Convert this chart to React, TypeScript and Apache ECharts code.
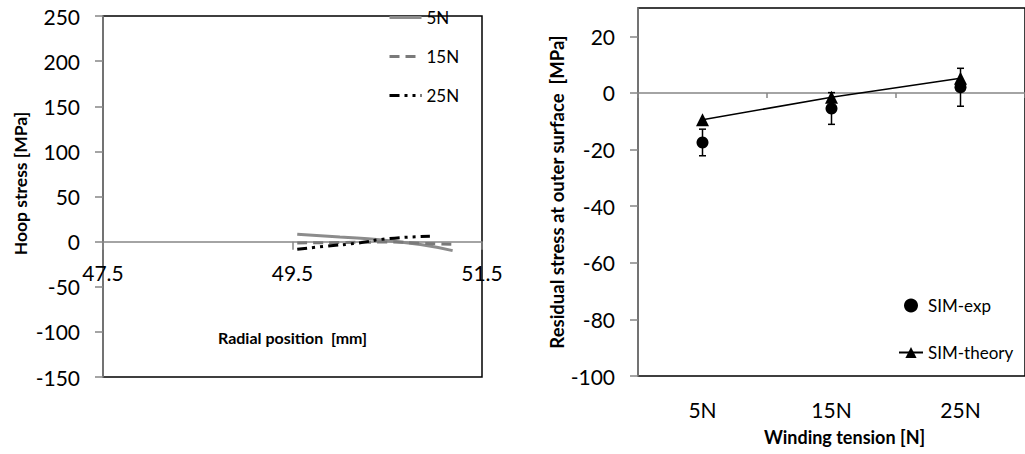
import React, { useEffect, useRef } from "react";
import * as echarts from "echarts";

// Left chart: hoop stress vs radial position
const radialTicks = [47.5, 49.5, 51.5];
const hoop5N: [number, number][] = [[49.55, 8.3], [50.0, 5], [50.42, 2.2], [50.85, -3.3], [51.19, -10]];
const hoop15N: [number, number][] = [[49.55, -1.5], [50.0, -1], [50.5, -0.5], [50.9, -2], [51.19, -3]];
const hoop25N: [number, number][] = [[49.55, -8.5], [49.86, -5], [50.18, -1.7], [50.51, 3.3], [50.95, 6]];
const hoopMin = -150;
const hoopMax = 250;

// Right chart: residual stress at outer surface
const tensions = ["5N", "15N", "25N"];
const simExp = [-17.5, -5.5, 2];
const simExpErr = [4.7, 5.6, 6.7];
const simTheory = [-9.5, -1.5, 5.2];
const residualTicks = [-100, -80, -60, -40, -20, 0, 20];

const FONT = "Lato";
const AXIS_GRAY = "#868686";

export default function App() {
  const ref = useRef<HTMLDivElement>(null);
  useEffect(() => {
    if (!ref.current) return;
    const chart = echarts.init(ref.current, null, { renderer: "svg" });
    const errData = tensions.map((_, i) => [i, simExp[i] - simExpErr[i], simExp[i] + simExpErr[i]]);
    const tickLabel = { color: "#000", fontFamily: FONT, fontSize: 21 };
    const nameStyle = (size: number) => ({ color: "#000", fontFamily: FONT, fontSize: size, fontWeight: "bold" as const });
    const leftGridH = 361;
    // move the left x axis up to the y = 0 position
    const zeroOffset = -leftGridH * (0 - hoopMin) / (hoopMax - hoopMin);
    chart.setOption({
      animation: false,
      textStyle: { fontFamily: FONT },
      grid: [
        { left: 103, top: 16, width: 379, height: leftGridH, show: true, borderColor: "#000", borderWidth: 1.5, backgroundColor: "transparent", containLabel: false, outerBoundsMode: "none" },
        { left: 638, top: 8, width: 387, height: 368, show: true, borderColor: "#000", borderWidth: 1.5, backgroundColor: "transparent", containLabel: false, outerBoundsMode: "none" },
      ],
      legend: [
        {
          data: ["5N", "15N", "25N"],
          orient: "vertical",
          left: 383,
          top: 4,
          itemWidth: 32,
          itemHeight: 14,
          itemGap: 22,
          itemStyle: { opacity: 0 },
          lineStyle: { width: 3 },
          textStyle: { color: "#000", fontFamily: FONT, fontSize: 17 },
        },
        {
          data: ["SIM-exp", "SIM-theory"],
          orient: "vertical",
          left: 893,
          top: 292,
          itemWidth: 24,
          itemHeight: 14,
          itemGap: 30,
          textStyle: { color: "#000", fontFamily: FONT, fontSize: 17 },
        },
      ],
      xAxis: [
        {
          type: "value",
          gridIndex: 0,
          min: 47.5,
          max: 51.5,
          position: "bottom",
          offset: zeroOffset,
          name: "Radial position  [mm]",
          nameLocation: "middle",
          nameGap: 88,
          nameTextStyle: nameStyle(16),
          axisLine: { onZero: false, lineStyle: { color: AXIS_GRAY, width: 1.5 } },
          axisTick: { show: true, length: 8, customValues: radialTicks, lineStyle: { color: AXIS_GRAY, width: 1.5 } },
          axisLabel: { ...tickLabel, margin: 20, customValues: radialTicks, formatter: (v: number) => v.toFixed(1) },
          splitLine: { show: false },
        },
        {
          type: "category",
          gridIndex: 1,
          data: tensions,
          position: "bottom",
          name: "Winding tension [N]",
          nameLocation: "middle",
          nameGap: 52,
          nameTextStyle: { ...nameStyle(18), padding: [0, 0, 0, 26] },
          axisLine: { show: false, onZero: false },
          axisTick: { show: false },
          axisLabel: { ...tickLabel, margin: 23 },
          splitLine: { show: false },
        },
        {
          type: "category",
          gridIndex: 1,
          data: tensions,
          position: "bottom",
          axisLine: { show: true, onZero: true, lineStyle: { color: AXIS_GRAY, width: 1.5 } },
          axisTick: { show: true, length: 5, lineStyle: { color: AXIS_GRAY, width: 1.5 } },
          axisLabel: { show: false },
          splitLine: { show: false },
        },
      ],
      yAxis: [
        {
          type: "value",
          gridIndex: 0,
          min: hoopMin,
          max: hoopMax,
          interval: 50,
          name: "Hoop stress [MPa]",
          nameLocation: "middle",
          nameGap: 74,
          nameTextStyle: { ...nameStyle(17.5), padding: [0, 0, 0, 26] },
          axisLine: { show: true, onZero: false, lineStyle: { color: AXIS_GRAY, width: 1.5 } },
          axisTick: { show: true, length: 8, lineStyle: { color: AXIS_GRAY, width: 1.5 } },
          axisLabel: { ...tickLabel, margin: 23 },
          splitLine: { show: false },
        },
        {
          type: "value",
          gridIndex: 1,
          min: -100,
          max: 30,
          interval: 20,
          name: "Residual stress at outer surface  [MPa]",
          nameLocation: "middle",
          nameGap: 55,
          nameTextStyle: nameStyle(18.5),
          axisLine: { show: true, onZero: false, lineStyle: { color: AXIS_GRAY, width: 1.5 } },
          axisTick: { show: true, length: 8, customValues: residualTicks, lineStyle: { color: AXIS_GRAY, width: 1.5 } },
          axisLabel: { ...tickLabel, margin: 23, customValues: residualTicks },
          splitLine: { show: false },
        },
      ],
      series: [
        {
          name: "5N",
          type: "line",
          xAxisIndex: 0,
          yAxisIndex: 0,
          data: hoop5N,
          symbol: "none",
          smooth: true,
          lineStyle: { color: "#8c8c8c", width: 3 },
          itemStyle: { color: "#8c8c8c" },
        },
        {
          name: "15N",
          type: "line",
          xAxisIndex: 0,
          yAxisIndex: 0,
          data: hoop15N,
          symbol: "none",
          smooth: true,
          lineStyle: { color: "#7a7a7a", width: 3, type: [10, 6] },
          itemStyle: { color: "#7a7a7a" },
        },
        {
          name: "25N",
          type: "line",
          xAxisIndex: 0,
          yAxisIndex: 0,
          data: hoop25N,
          symbol: "none",
          smooth: true,
          lineStyle: { color: "#000", width: 3, type: [10, 5, 3, 5, 3, 5] },
          itemStyle: { color: "#000" },
        },
        {
          name: "SIM-exp-err",
          type: "custom",
          xAxisIndex: 1,
          yAxisIndex: 1,
          data: errData,
          z: 1,
          renderItem: (params: any, api: any) => {
            const lo = api.coord([api.value(0), api.value(1)]);
            const hi = api.coord([api.value(0), api.value(2)]);
            const cap = 3.5;
            const st = { stroke: "#000", lineWidth: 1.5 };
            return {
              type: "group",
              children: [
                { type: "line", shape: { x1: lo[0], y1: lo[1], x2: hi[0], y2: hi[1] }, style: st },
                { type: "line", shape: { x1: lo[0] - cap, y1: lo[1], x2: lo[0] + cap, y2: lo[1] }, style: st },
                { type: "line", shape: { x1: hi[0] - cap, y1: hi[1], x2: hi[0] + cap, y2: hi[1] }, style: st },
              ],
            };
          },
        },
        {
          name: "SIM-exp",
          type: "scatter",
          xAxisIndex: 1,
          yAxisIndex: 1,
          data: simExp,
          symbol: "circle",
          symbolSize: 12,
          itemStyle: { color: "#000", opacity: 1 },
          z: 3,
        },
        {
          name: "SIM-theory",
          type: "line",
          xAxisIndex: 1,
          yAxisIndex: 1,
          data: simTheory,
          symbol: "triangle",
          symbolSize: 13,
          showSymbol: true,
          lineStyle: { color: "#000", width: 1.5 },
          itemStyle: { color: "#000" },
          z: 4,
        },
      ],
    });
    return () => chart.dispose();
  }, []);
  return (
    <div
      ref={ref}
      style={{ position: "fixed", left: 0, top: 0, width: 1025, height: 454, background: "#fff" }}
    />
  );
}
